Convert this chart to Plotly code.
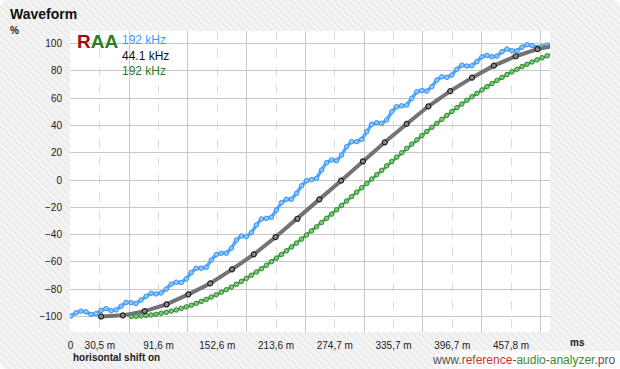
import base64
import plotly.graph_objects as go

# ---------------- data ----------------
x_tick_vals = [0, 30.52, 91.56, 152.6, 213.64, 274.68, 335.72, 396.76, 457.8]
x_tick_text = ["0", "30,5 m", "91,6 m", "152,6 m", "213,6 m", "274,7 m", "335,7 m", "396,7 m", "457,8 m"]
x_minor_vals = [0, 61.04, 122.08, 183.12, 244.16, 305.2, 366.24, 427.28, 488.32]
y_tick_vals = [-100, -80, -60, -40, -20, 0, 20, 40, 60, 80, 100]

# 192 kHz (blue) - sample times and values
blue_x = [0.5, 5.7, 10.9, 16.1, 21.3, 26.5, 31.7, 37.0, 42.2, 47.4, 52.6, 57.8, 63.0, 68.2,
          73.4, 78.6, 83.8, 89.0, 94.2, 99.5, 104.7, 109.9, 115.1, 120.3, 125.5, 130.7, 135.9,
          141.1, 146.3, 151.5, 156.7, 161.9, 167.2, 172.4, 177.6, 182.8, 188.0, 193.2, 198.4,
          203.6, 208.8, 214.0, 219.2, 224.4, 229.7, 234.9, 240.1, 245.3, 250.5, 255.7, 260.9,
          266.1, 271.3, 276.5, 281.7, 286.9, 292.1, 297.4, 302.6, 307.8, 313.0, 318.2, 323.4,
          328.6, 333.8, 339.0, 344.2, 349.4, 354.6, 359.9, 365.1, 370.3, 375.5, 380.7, 385.9,
          391.1, 396.3, 401.5, 406.7, 411.9, 417.1, 422.3, 427.6, 432.8, 438.0, 443.2, 448.4,
          453.6, 458.8, 464.0, 469.2, 474.4, 479.6, 484.8, 490.0, 495.3, 500.5]
blue_y = [-99.6, -97.4, -96.1, -96.6, -98.5, -98.0, -95.6, -94.3, -95.8, -95.2, -92.5, -89.7,
          -89.9, -90.5, -87.9, -85.2, -83.0, -83.5, -82.8, -79.9, -76.3, -74.9, -75.1, -72.5,
          -67.8, -64.7, -64.7, -64.0, -58.6, -54.7, -53.7, -53.7, -50.0, -44.0, -41.0, -41.5,
          -38.6, -33.0, -28.6, -28.1, -27.3, -22.0, -16.6, -14.1, -14.1, -9.7, -4.2, -0.5,
          0.3, 1.2, 7.3, 12.7, 14.7, 14.1, 18.3, 24.4, 28.1, 28.1, 29.8, 35.4, 40.8, 42.0,
          41.5, 44.0, 50.0, 53.7, 54.4, 54.9, 59.9, 64.7, 65.6, 65.2, 68.4, 73.3, 75.7, 75.2,
          76.9, 81.1, 84.2, 83.5, 83.7, 86.7, 90.3, 91.4, 90.3, 90.8, 94.0, 96.0, 94.7, 94.7,
          97.4, 99.1, 98.5, 97.1, 97.7, 98.9, 99.6]

# 44.1 kHz (gray)
gray_x = [31.8, 54.5, 77.1, 99.8, 122.5, 145.2, 167.9, 190.5, 213.2, 235.9, 258.6, 281.2,
          303.9, 326.6, 349.3, 371.9, 394.6, 417.3, 440.0, 462.7, 485.3, 508.0]
gray_y = [-100.0, -99.2, -96.1, -91.2, -83.8, -75.8, -65.5, -54.5, -41.8, -28.4, -14.2, -0.5,
          13.7, 27.6, 41.1, 54.0, 65.1, 75.0, 83.8, 90.7, 95.9, 99.0]

# 192 kHz (green, shifted)
green_x = blue_x[12:]
green_y = [-100.0, -99.9, -99.6, -99.3, -98.9, -98.4, -97.7, -97.0, -96.1, -95.2, -94.1, -93.0,
           -91.8, -90.4, -89.0, -87.5, -85.8, -84.1, -82.3, -80.4, -78.5, -76.4, -74.3, -72.1,
           -69.8, -67.4, -65.0, -62.5, -59.9, -57.3, -54.6, -51.9, -49.1, -46.2, -43.3, -40.3,
           -37.3, -34.3, -31.2, -28.1, -25.0, -21.8, -18.6, -15.4, -12.2, -8.9, -5.7, -2.6,
           0.7, 3.9, 7.1, 10.4, 13.6, 16.8, 20.0, 23.2, 26.3, 29.4, 32.5, 35.6, 38.6, 41.5,
           44.5, 47.4, 50.2, 53.0, 55.7, 58.4, 61.0, 63.5, 66.0, 68.4, 70.7, 73.0, 75.2, 77.3,
           79.3, 81.2, 83.1, 84.8, 86.5, 88.1, 89.6, 91.0, 92.2]

legend_labels = ["192 kHz", "44.1 kHz", "192 kHz"]
legend_colors = ["#3b9bff", "#111111", "#1f7f1f"]

# ---------------- layout geometry ----------------
W, H = 620, 369
ML, MR, MT, MB = 70, 70, 31, 37
PW, PH = W - ML - MR, H - MT - MB


def px_to_paper_x(px):
    return (px - ML) / PW


def px_to_paper_y(py):
    return (H - MB - py) / PH


FONT = "Liberation Sans, Arial, sans-serif"

# background: hatched light-gray panel with white plotting area
svg = f"""<svg xmlns='http://www.w3.org/2000/svg' width='{W}' height='{H}'>
<defs><pattern id='p' width='5' height='5' patternUnits='userSpaceOnUse' patternTransform='rotate(-45)'>
<rect width='5' height='5' fill='#f4f4f4'/><rect width='1.6' height='5' fill='#e9e9e9'/></pattern>
<linearGradient id='g' x1='0' x2='1' y1='0' y2='0'><stop offset='0' stop-color='#ffffff' stop-opacity='0'/>
<stop offset='0.25' stop-color='#ffffff' stop-opacity='0.85'/><stop offset='1' stop-color='#ffffff' stop-opacity='0.95'/></linearGradient></defs>
<rect x='0' y='0' width='{W}' height='{H}' rx='7' fill='url(#p)'/>
<path d='M 425 369 L 442 351 L 620 351 L 620 362 Q 620 369 613 369 Z' fill='url(#g)'/>
<rect x='{ML}' y='{MT}' width='{PW}' height='{PH}' fill='#ffffff'/>
</svg>"""
svg_uri = "data:image/svg+xml;base64," + base64.b64encode(svg.encode()).decode()

fig = go.Figure()

fig.add_trace(go.Scatter(
    x=blue_x, y=blue_y, mode="lines+markers",
    line=dict(color="#52a8ff", width=3.4),
    marker=dict(symbol="circle", size=4.5, color="#8cc6ff", line=dict(color="#3a94f0", width=1)),
    showlegend=False, hoverinfo="skip"))

fig.add_trace(go.Scatter(
    x=green_x, y=green_y, mode="lines+markers",
    line=dict(color="#4aaa4a", width=2.5),
    marker=dict(symbol="circle", size=4.5, color="#7cc87c", line=dict(color="#2f8a2f", width=1)),
    showlegend=False, hoverinfo="skip"))

fig.add_trace(go.Scatter(
    x=gray_x, y=gray_y, mode="lines+markers",
    line=dict(color="#737373", width=4),
    marker=dict(symbol="circle", size=5, color="#8a8a8a", line=dict(color="#222222", width=1.2)),
    showlegend=False, hoverinfo="skip"))

fig.update_xaxes(
    range=[-0.5, 498.3], showline=False, zeroline=False,
    tickmode="array", tickvals=x_tick_vals, ticktext=x_tick_text,
    showgrid=True, gridcolor="#dcdcdc", griddash="dash", gridwidth=1,
    ticks="", ticklabelstandoff=6,
    tickfont=dict(family=FONT, size=10, color="#222222"),
    minor=dict(tickmode="array", tickvals=x_minor_vals, showgrid=True,
               gridcolor="#c8c8c8", griddash="solid", gridwidth=1, ticks=""),
    fixedrange=True)

fig.update_yaxes(
    range=[-111.4, 109.2], showline=False, zeroline=False,
    tickmode="array", tickvals=y_tick_vals,
    showgrid=True, gridcolor="#c8c8c8", gridwidth=1,
    ticks="", ticklabelstandoff=7,
    tickfont=dict(family=FONT, size=10, color="#222222"),
    fixedrange=True)

annotations = [
    dict(text="<b>Waveform</b>", x=px_to_paper_x(8), y=px_to_paper_y(14), xanchor="left", yanchor="middle",
         font=dict(family=FONT, size=14, color="#111111")),
    dict(text="<b>%</b>", x=px_to_paper_x(8), y=px_to_paper_y(30), xanchor="left", yanchor="middle",
         font=dict(family=FONT, size=10, color="#222222")),
    dict(text="<b>ms</b>", x=px_to_paper_x(577), y=px_to_paper_y(342), xanchor="center", yanchor="middle",
         font=dict(family=FONT, size=10, color="#222222")),
    dict(text="<b>horisontal shift on</b>", x=px_to_paper_x(71), y=px_to_paper_y(357), xanchor="left",
         yanchor="middle", font=dict(family=FONT, size=10, color="#222222")),
    dict(text=("<span style='color:#555555'>www.</span><span style='color:#c0392b'>reference</span>"
               "<span style='color:#555555'>-</span><span style='color:#3d8b2f'>audio</span>"
               "<span style='color:#555555'>-</span><span style='color:#3d8b2f'>analyzer</span>"
               "<span style='color:#555555'>.pro</span>"),
         x=px_to_paper_x(617), y=px_to_paper_y(360), xanchor="right", yanchor="middle",
         font=dict(family=FONT, size=12, color="#555555")),
    dict(text="<b><span style='color:#9e1010'>R</span><span style='color:#2b7d1b'>AA</span></b>",
         x=px_to_paper_x(75), y=px_to_paper_y(41), xanchor="left", yanchor="middle",
         font=dict(family=FONT, size=19, color="#2b7d1b")),
]
for i, (lab, col) in enumerate(zip(legend_labels, legend_colors)):
    annotations.append(dict(text=lab, x=px_to_paper_x(120), y=px_to_paper_y(40 + 15.5 * i),
                            xanchor="left", yanchor="middle",
                            font=dict(family=FONT, size=12, color=col)))
for a in annotations:
    a.update(xref="paper", yref="paper", showarrow=False)

fig.update_layout(
    width=W, height=H, autosize=False,
    margin=dict(l=ML, r=MR, t=MT, b=MB, pad=0),
    paper_bgcolor="#ffffff", plot_bgcolor="rgba(0,0,0,0)",
    showlegend=False,
    annotations=annotations,
    images=[dict(source=svg_uri, xref="paper", yref="paper",
                 x=px_to_paper_x(0), y=px_to_paper_y(0), sizex=W / PW, sizey=H / PH,
                 xanchor="left", yanchor="top", sizing="stretch", layer="below")],
)

fig.write_html("out.html", config={"displayModeBar": False},
               post_script="document.body.style.margin='0';document.body.style.padding='0';")
